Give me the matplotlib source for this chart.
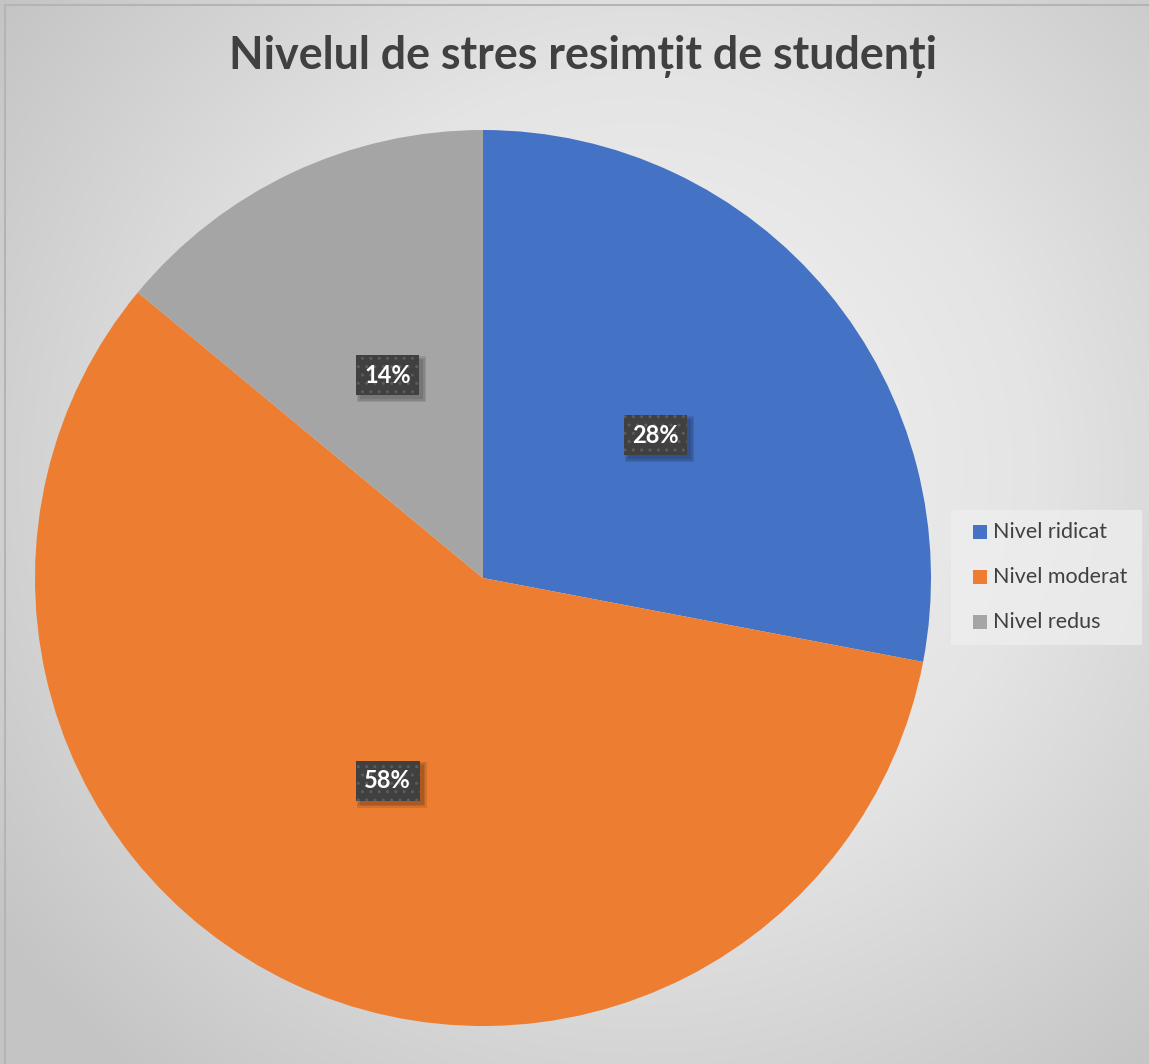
import numpy as np
import matplotlib
matplotlib.use("Agg")
import matplotlib.pyplot as plt
from matplotlib.colors import LinearSegmentedColormap
from matplotlib.transforms import IdentityTransform

title = "Nivelul de stres resimțit de studenți"
categories = ["Nivel ridicat", "Nivel moderat", "Nivel redus"]
values = [28, 58, 14]
colors = ["#4472C4", "#ED7D31", "#A5A5A5"]

W, H = 1149, 1064
fig = plt.figure(figsize=(W / 100, H / 100), dpi=100)
plt.rcParams['font.family'] = ['Lato', 'DejaVu Sans']

# background radial gradient
bg = fig.add_axes([0, 0, 1, 1], zorder=-10)
yy, xx = np.mgrid[0:H, 0:W]
cx, cy = 640, 470
r = np.sqrt((xx - cx) ** 2 + (yy - cy) ** 2) / np.sqrt(cx ** 2 + cy ** 2)
cmap = LinearSegmentedColormap.from_list("bg", ["#f4f4f4", "#e4e4e4", "#c4c4c4"])
bg.imshow(r, cmap=cmap, vmin=0, vmax=1.0, aspect="auto", extent=[0, W, H, 0])
bg.set_xlim(0, W)
bg.set_ylim(H, 0)
bg.axis("off")
bg.plot([5, W], [5, 5], color="#b4b4b4", lw=1.5)
bg.plot([5, 5], [5, H], color="#b4b4b4", lw=1.5)
bg.add_patch(plt.Rectangle((951, 510), 191, 135, color="#efefef", alpha=0.7, lw=0))

# pie
R = 448
ccx, ccy = 483, 578
ax = fig.add_axes([(ccx - R) / W, (H - ccy - R) / H, 2 * R / W, 2 * R / H])
wedges, texts = ax.pie(values, colors=colors, startangle=90, counterclock=False,
                       radius=1, labels=None, wedgeprops=dict(linewidth=0))
ax.set_xlim(-1, 1)
ax.set_ylim(-1, 1)
ax.set_aspect("equal")
ax.axis("off")

total = sum(values)
ang = 90
labels = []
for v in values:
    theta = np.deg2rad(ang - v / total * 360 / 2)
    ang -= v / total * 360
    x, y = 0.5 * np.cos(theta), 0.5 * np.sin(theta)
    lbl = f"{v / total * 100:.0f}%"
    t = ax.text(x, y, lbl, ha="center", va="center", fontsize=17, fontweight="bold", color="white",
                bbox=dict(boxstyle="square,pad=0.36", fc="#404040", ec="#5c5c5c", lw=0, hatch=".."),
                zorder=10)
    labels.append(t)

fig.text(583 / W, 1 - 57 / H, title, ha="center", va="center", fontsize=32.3,
         fontweight="bold", color="#404040")

# legend
ly = [532, 577, 622]
for cat, col, y in zip(categories, colors, ly):
    bg.add_patch(plt.Rectangle((973, y - 7), 14, 14, color=col, lw=0))
    bg.text(993, y, cat, ha="left", va="center", fontsize=15.5, color="#404040")

# soft shadows behind the data labels
fig.canvas.draw()
renderer = fig.canvas.get_renderer()
for t in labels:
    bb = t.get_bbox_patch().get_window_extent(renderer)
    for k in [0, 1.5, 3]:
        ax.add_patch(plt.Rectangle((bb.x0 + 4 - k, bb.y0 - 4 - k),
                                   bb.width + 2 * k, bb.height + 2 * k,
                                   transform=IdentityTransform(), fc="black", alpha=0.1,
                                   lw=0, zorder=5, clip_on=False))

fig.savefig("out.png", dpi=100)
